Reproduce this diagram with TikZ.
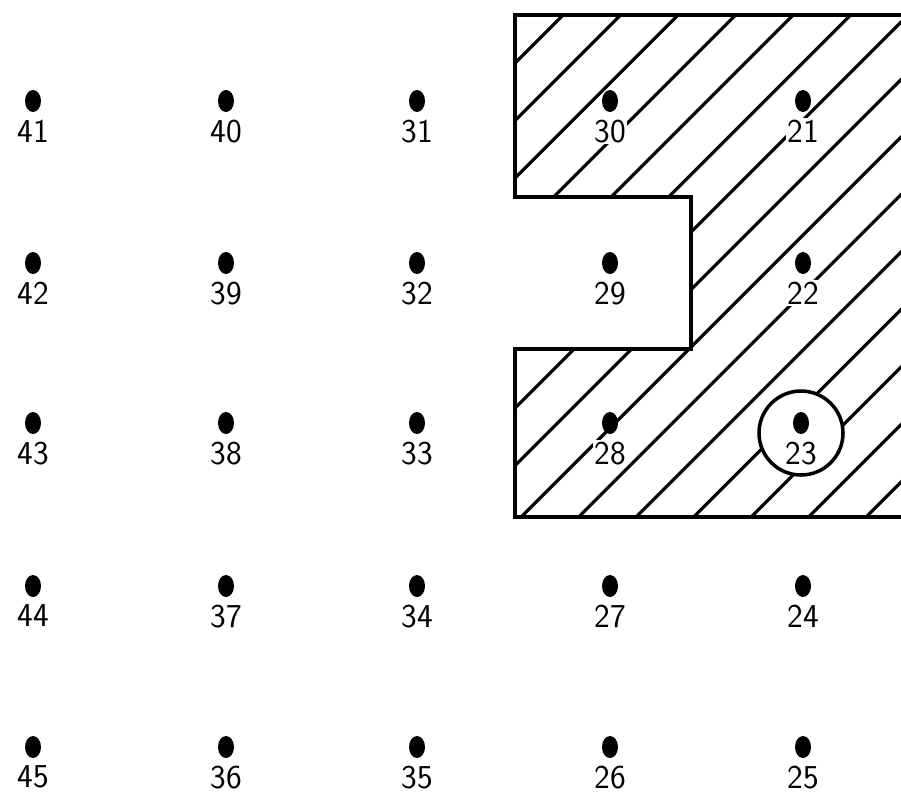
\documentclass[tikz,border=0pt]{standalone}
\usetikzlibrary{positioning, shapes.geometric}

\begin{document}
\begin{tikzpicture}[
        x=0.02cm, y=-0.02cm,
        dot/.style={ellipse, fill=black, inner sep=0pt, minimum width=0.32cm, minimum height=0.44cm},
        num/.style={font=\sffamily\fontsize{19}{19}\selectfont, inner sep=1pt},
        plain/.style={},
        blank/.style={fill=white},
        wall/.style={line width=2.2pt, line join=miter},
        hatch/.style={line width=1.8pt}
    ]
\useasboundingbox (0,0) rectangle (901,799);

% ---------- hatched region ----------
\begin{scope}
    \clip (515,15) -- (901,15) -- (901,517) -- (515,517) -- (515,349) -- (691,349) -- (691,197) -- (515,197) -- cycle;
    \foreach \k in {-1,...,16}
        \draw[hatch] ({578+57.5*\k-600}, 600) -- ({578+57.5*\k}, 0);
\end{scope}
\draw[wall] (901,15) -- (515,15) -- (515,197) -- (691,197) -- (691,349) -- (515,349) -- (515,517) -- (901,517);

% ---------- marked point ----------
\node[circle, draw, fill=white, line width=2pt, minimum size=1.68cm] (ring) at (801,433) {};

% ---------- grid of points ----------
\foreach \n/\x/\y/\s in {41/33/101/plain, 40/226/101/plain, 31/417/101/plain, 30/610/101/blank, 21/803/101/blank,
                        42/33/263/plain, 39/226/263/plain, 32/417/263/plain, 29/610/263/plain, 22/803/263/blank,
                        43/33/423/plain, 38/226/423/plain, 33/417/423/plain, 28/610/423/blank, 23/801/423/plain,
                        44/33/586/plain, 37/226/586/plain, 34/417/586/plain, 27/610/586/plain, 24/803/586/plain,
                        45/33/747/plain, 36/226/747/plain, 35/417/747/plain, 26/610/747/plain, 25/803/747/plain}{
    \node[dot] (p\n) at (\x,\y) {};
    \node[num, \s, below=3pt of p\n] (l\n) {\n};
}

\end{tikzpicture}
\end{document}
